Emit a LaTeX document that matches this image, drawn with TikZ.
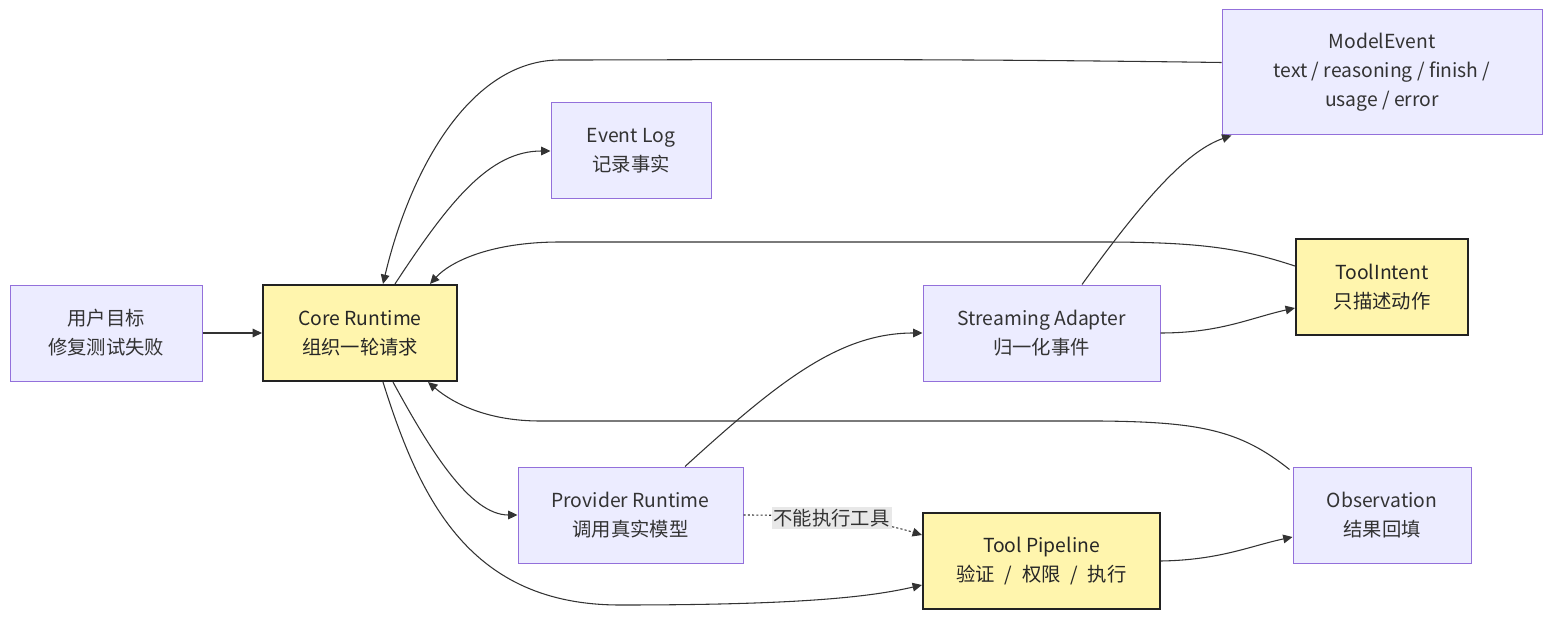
\documentclass[tikz,border=0pt]{standalone}
\usepackage{fontspec}
\setmainfont{Noto Sans CJK SC}
\usetikzlibrary{positioning,arrows.meta,calc}

\definecolor{boxfill}{HTML}{ECECFF}
\definecolor{boxline}{HTML}{9370DB}
\definecolor{keyfill}{HTML}{FFF5AD}
\definecolor{keyline}{HTML}{222222}
\definecolor{ink}{HTML}{333333}
\definecolor{lblfill}{HTML}{E8E8E8}

\begin{document}
\begin{tikzpicture}[
    x=0.75pt, y=0.75pt,
    font=\fontsize{14.5}{21.75}\selectfont,
    box/.style={draw=boxline, line width=0.75pt, rectangle, align=center, minimum height=72pt, fill=boxfill, text=ink},
    keybox/.style={draw=keyline, line width=1.6pt, rectangle, align=center, minimum height=72pt, fill=keyfill, text=black!85},
    arrow/.style={-{Triangle[length=7pt,width=6.5pt]}, line width=0.8pt, draw=ink},
    dotarrow/.style={arrow, dash pattern=on 1.6pt off 1.6pt},
    edgelabel/.style={fill=lblfill, text=ink, inner sep=1.5pt}
]
\useasboundingbox (0,0) rectangle (1568,626);

% Linha do meio: objetivo e runtime central
\node[box, minimum width=144pt] (goal) at (106,293) {用户目标\\修复测试失败};
\node[keybox, minimum width=145.5pt] (core) at (360,293) {Core Runtime\\组织一轮请求};

% Coluna 2
\node[box, minimum width=120pt] (evlog) at (631,475) {Event Log\\记录事实};
\node[box, minimum width=168.75pt] (provider) at (630.5,111) {Provider Runtime\\调用真实模型};

% Coluna 3
\node[box, minimum width=177.75pt] (stream) at (1041.5,293) {Streaming Adapter\\归一化事件};
\node[keybox, minimum width=177.75pt] (pipeline) at (1041.5,65) {Tool Pipeline\\验证\hspace{0.5em}/\hspace{0.5em}权限\hspace{0.5em}/\hspace{0.5em}执行};

% Coluna 4
\node[box, minimum width=240pt, minimum height=93.75pt] (modev) at (1382,553.5) {ModelEvent\\text / reasoning / finish /\\usage / error};
\node[keybox, minimum width=129pt] (intent) at (1382,339) {ToolIntent\\只描述动作};
\node[box, minimum width=133.5pt] (obs) at (1382,111) {Observation\\结果回填};

% Setas de entrada
\draw[arrow] (goal) -- (core);
\draw[arrow] ($(core.north)+(35,0)$) .. controls (450,426) and (490,475) .. (evlog.west);
\draw[arrow] ($(core.south)+(33,0)$) .. controls (430,176) and (470,111) .. (provider.west);
\draw[arrow] ($(core.south)+(23,0)$) .. controls (420,126) and (470,21) .. (620,21)
    .. controls (800,21) and (870,29) .. ($(pipeline.west)+(0,-24)$);

% Provider -> adaptador / pipeline
\draw[arrow] ($(provider.north)+(54.5,0)$) .. controls (780,246) and (840,293) .. (stream.west);
\draw[dotarrow] (provider.east) .. controls (830,111) and (880,104) .. ($(pipeline.west)+(0,26)$)
    node[pos=0.4, edgelabel] (nolbl) {不能执行工具};

% Adaptador -> eventos
\draw[arrow] ($(stream.north)+(40.5,0)$) .. controls (1150,436) and (1190,476) .. ($(modev.south west)+(10,0)$);
\draw[arrow] (stream.east) .. controls (1220,293) and (1250,308) .. ($(intent.west)+(0,-21)$);
\draw[arrow] (pipeline.east) .. controls (1220,66) and (1250,80) .. ($(obs.west)+(0,-22)$);

% Retornos para o runtime
\draw[arrow] ($(modev.west)+(0,10)$) .. controls (900,568) and (700,566) .. (560,566)
    .. controls (470,566) and (410,456) .. ($(core.north)+(23,0)$);
\draw[arrow] ($(intent.west)+(0,21)$) .. controls (1240,378) and (1200,384) .. (1100,384)
    -- (560,384) .. controls (490,384) and (450,364) .. ($(core.north)+(70,0)$);
\draw[arrow] ($(obs.north west)+(-3,-3)$) .. controls (1240,196) and (1200,204) .. (1100,205)
    -- (540,205) .. controls (490,205) and (455,221) .. ($(core.south)+(68,0)$);

\end{tikzpicture}
\end{document}
